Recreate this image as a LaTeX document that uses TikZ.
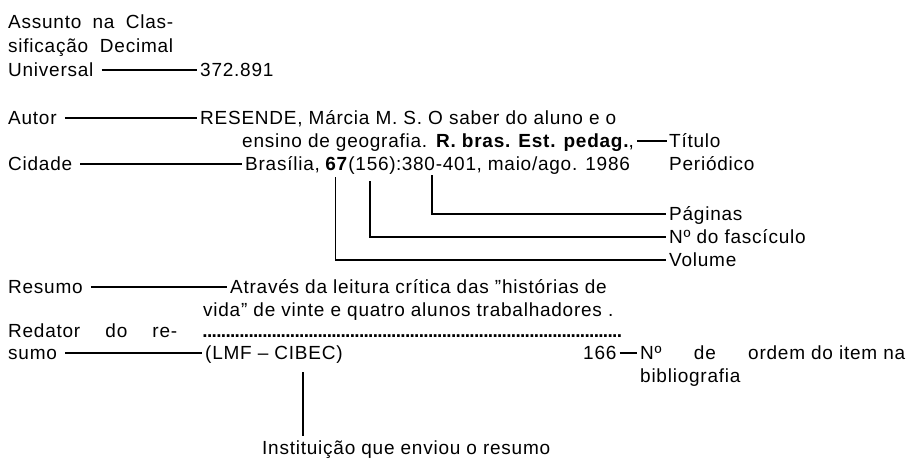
\documentclass[tikz,border=0pt]{standalone}
\usepackage{fontspec}
\setmainfont{Liberation Sans}[LetterSpace=4]
\begin{document}
\begin{tikzpicture}[x=1pt,y=-1pt,
  txt/.style={anchor=base west, inner sep=0pt, text height=12pt, text depth=0pt,
              font=\fontsize{19}{22}\selectfont},
  conn/.style={line width=1.2pt},
  hconn/.style={conn, shorten <=8pt, shorten >=3pt}]
\useasboundingbox (0,0) rectangle (917,459);
% top block
\node[txt] (assunto) at (8,28) {\hbox to 165pt{Assunto\hfill na\hfill Clas-}};
\node[txt] (sific) at (8,52) {\hbox to 165pt{sificação\hfill Decimal}};
\node[txt] (universal) at (8,76) {Universal};
\node[txt] (cdu) at (200,76) {372.891};
\draw[hconn] (universal.east) -- (cdu.west);
% citation
\node[txt] (autor) at (8,124) {Autor};
\node[txt] (resende) at (200,124) {RESENDE, Márcia M. S. O saber do aluno e o};
\node[txt] (ensino) at (242,147) {ensino de geografia. \textbf{R. bras. Est. pedag.},};
\node[txt] (titulo) at (669,147) {Título};
\node[txt] (cidade) at (8,170) {Cidade};
\node[txt] (bras) at (245,170) {Brasília,};
\node[txt] (b67) at ([xshift=5pt]bras.base east) {\textbf{67}};
\node[txt] (b156) at (b67.base east) {(156)};
\node[txt] (bcolon) at (b156.base east) {:};
\node[txt] (b380) at (bcolon.base east) {380-401};
\node[txt] (brest) at (b380.base east) {, maio/ago. 1986};
\node[txt] (periodico) at (669,170) {Periódico};
\draw[hconn] (autor.east) -- (resende.west);
\draw[hconn] (cidade.east) -- (bras.west);
\draw[conn, shorten <=3pt, shorten >=2pt] (ensino.east) -- (titulo.west);
% volume, fascicle, pages
\node[txt] (paginas) at (669,220) {Páginas};
\node[txt] (fasciculo) at (669,243) {Nº do fascículo};
\node[txt] (volume) at (669,266) {Volume};
\coordinate (v67) at ([xshift=-1pt,yshift=-7pt]b67.south);
\coordinate (v156) at ([xshift=-2pt,yshift=-11pt]b156.south);
\coordinate (v380) at ([xshift=-7pt,yshift=-5pt]b380.south);
\draw[conn, shorten >=3pt] (v380) |- (paginas.west);
\draw[conn, shorten >=3pt] (v156) |- (fasciculo.west);
\draw[conn, shorten >=3pt] (v67) |- (volume.west);
% abstract
\node[txt] (resumo) at (8,293) {Resumo};
\node[txt] (atraves) at (230,293) {Através da leitura crítica das ''histórias de};
\node[txt] (vida) at (203,316) {vida'' de vinte e quatro alunos trabalhadores .};
\draw[hconn] (resumo.east) -- (atraves.west);
\node[txt] (redator) at (8,337) {\hbox to 169pt{Redator\hfill do\hfill re-}};
\node[txt] (dots) at (203,337) {\hbox to 419pt{\leaders\hbox to 4.6pt{\hss\textbf{.}\hss}\hfill}};
\node[txt] (sumo) at (8,359) {sumo};
\node[txt] (lmf) at (205,359) {(LMF -- CIBEC)};
\draw[hconn] (sumo.east) -- (lmf.west);
\node[txt] (n166) at (583,359) {166};
\node[txt] (ordem) at (640,359) {\hbox to 265pt{Nº\hfill de\hfill ordem do item na}};
\node[txt] (biblio) at (640,382) {bibliografia};
\draw[conn, shorten <=3pt, shorten >=3pt] (n166.east) -- (ordem.west);
% institution
\node[txt] (inst) at (262,454) {Instituição que enviou o resumo};
\coordinate (cib) at (303,372);
\draw[conn, shorten >=6pt] (cib) -- (cib |- inst.north);
\end{tikzpicture}
\end{document}
